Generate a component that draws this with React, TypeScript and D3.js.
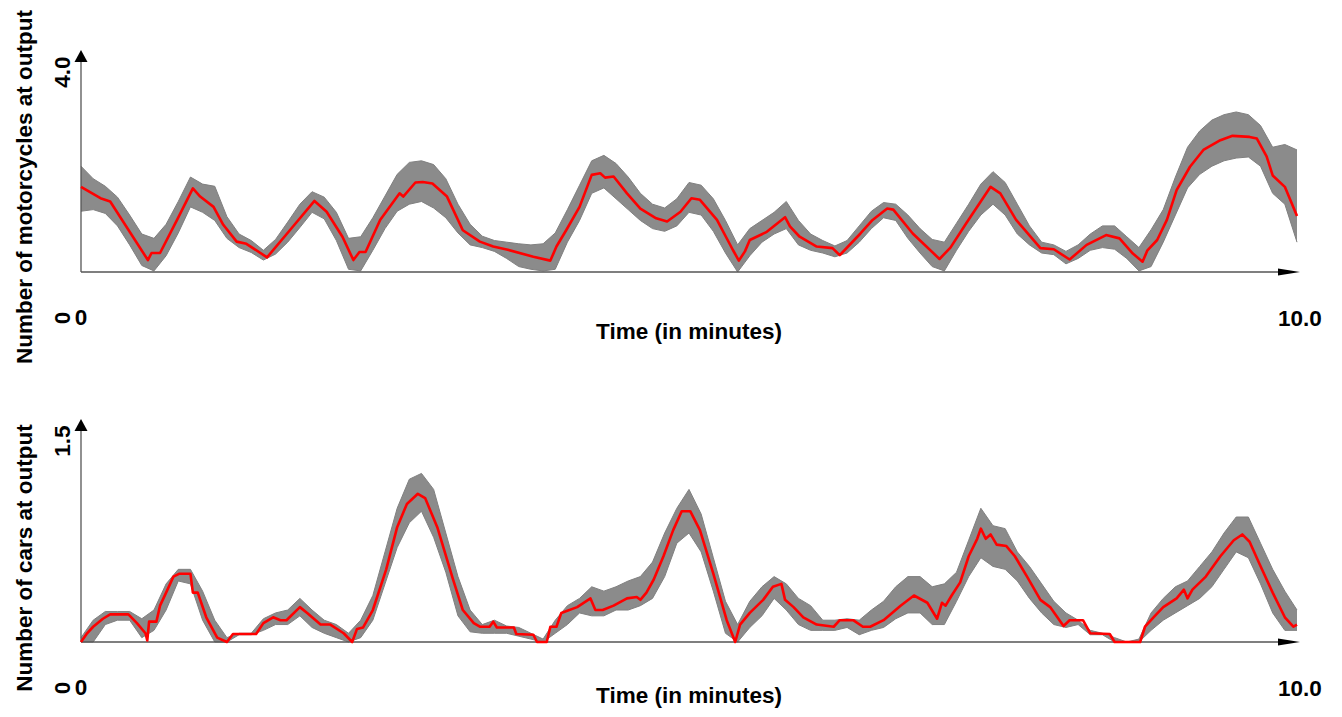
import React from "react";
import * as d3 from "d3";

// ---------- Data ----------
const xTickLabels = ["0", "10.0"];
const motoYTicks = ["0", "4.0"];
const carYTicks = ["0", "1.5"];

// Motorcycles: mean (red) read at key times
const motoMeanT = [0.00,0.16,0.24,0.55,0.58,0.65,0.79,0.92,0.98,1.09,1.17,1.28,1.36,1.53,1.74,1.92,2.02,2.15,2.24,2.29,2.34,2.46,2.62,2.65,2.75,2.81,2.89,3.01,3.14,3.28,3.39,3.51,3.72,3.86,3.91,3.99,4.10,4.20,4.27,4.31,4.38,4.49,4.60,4.73,4.82,4.93,5.02,5.09,5.23,5.36,5.41,5.46,5.50,5.64,5.79,5.83,5.91,6.05,6.18,6.24,6.41,6.51,6.63,6.68,6.84,7.06,7.15,7.28,7.48,7.56,7.69,7.89,8.00,8.13,8.27,8.43,8.54,8.65,8.73,8.77,8.85,8.93,9.01,9.12,9.23,9.37,9.47,9.61,9.67,9.75,9.80,9.90,10.00];
const motoMeanV = [1.57,1.36,1.30,0.22,0.35,0.35,0.96,1.54,1.39,1.20,0.87,0.56,0.52,0.27,0.83,1.31,1.11,0.65,0.22,0.37,0.37,0.96,1.45,1.39,1.65,1.66,1.63,1.39,0.77,0.56,0.47,0.41,0.28,0.21,0.47,0.77,1.20,1.79,1.82,1.74,1.76,1.45,1.17,0.99,0.93,1.11,1.36,1.33,0.96,0.41,0.21,0.38,0.59,0.74,1.01,0.84,0.65,0.47,0.44,0.31,0.71,0.96,1.17,1.15,0.71,0.24,0.45,0.90,1.57,1.45,0.96,0.44,0.42,0.23,0.50,0.68,0.62,0.34,0.19,0.40,0.59,0.96,1.51,1.94,2.25,2.43,2.51,2.49,2.46,2.13,1.78,1.57,1.03];

// Motorcycles: spread of the simulation runs (grey), on a 0.1-minute grid
const motoUpper = [1.95,1.72,1.58,1.38,1.05,0.70,0.62,0.88,1.30,1.75,
  1.62,1.58,1.02,0.70,0.58,0.40,0.60,0.92,1.25,1.48,
  1.38,1.10,0.62,0.65,1.00,1.40,1.80,2.02,2.05,1.98,
  1.72,1.25,0.88,0.66,0.58,0.55,0.52,0.50,0.52,0.72,
  1.15,1.60,2.05,2.15,2.00,1.75,1.45,1.25,1.18,1.35,
  1.65,1.60,1.35,0.95,0.50,0.80,0.95,1.10,1.30,0.95,
  0.70,0.58,0.48,0.58,0.85,1.12,1.28,1.25,1.05,0.80,
  0.60,0.55,0.90,1.25,1.62,1.85,1.65,1.25,0.85,0.55,
  0.50,0.38,0.50,0.70,0.85,0.85,0.65,0.45,0.78,1.15,
  1.75,2.30,2.60,2.80,2.90,2.95,2.90,2.70,2.30,2.35,
  2.25];
const motoLower = [1.12,1.15,1.08,0.85,0.50,0.12,0.02,0.30,0.72,1.20,
  1.10,0.95,0.62,0.45,0.36,0.22,0.33,0.55,0.82,1.10,
  0.98,0.58,0.05,0.02,0.40,0.80,1.12,1.25,1.30,1.18,
  1.00,0.72,0.50,0.45,0.38,0.25,0.10,0.05,0.02,0.05,
  0.55,0.95,1.45,1.55,1.35,1.15,0.95,0.80,0.75,0.85,
  1.10,1.05,0.75,0.35,0.00,0.30,0.55,0.70,0.80,0.50,
  0.40,0.35,0.28,0.35,0.55,0.80,1.00,0.95,0.62,0.35,
  0.10,0.02,0.40,0.75,1.05,1.25,1.05,0.70,0.50,0.35,
  0.32,0.15,0.25,0.40,0.45,0.42,0.25,0.02,0.10,0.55,
  1.05,1.55,1.80,1.95,2.05,2.10,2.12,1.95,1.45,1.25,
  0.55];

// Cars: mean (red) read at key times
const carMeanT = [0.00,0.05,0.10,0.18,0.24,0.39,0.46,0.53,0.545,0.56,0.62,0.65,0.70,0.76,0.81,0.90,0.92,0.96,1.03,1.12,1.20,1.25,1.44,1.50,1.58,1.64,1.69,1.80,1.86,1.97,2.05,2.16,2.23,2.27,2.32,2.40,2.51,2.60,2.68,2.77,2.83,2.93,3.06,3.14,3.23,3.28,3.36,3.39,3.42,3.56,3.58,3.72,3.75,3.83,3.86,3.91,3.95,4.08,4.19,4.23,4.29,4.38,4.49,4.57,4.60,4.65,4.71,4.79,4.87,4.94,5.01,5.09,5.20,5.31,5.38,5.42,5.50,5.61,5.69,5.76,5.79,5.86,5.94,6.05,6.19,6.24,6.35,6.43,6.49,6.60,6.74,6.85,6.96,7.04,7.08,7.11,7.16,7.23,7.30,7.37,7.40,7.44,7.48,7.53,7.61,7.68,7.78,7.89,7.97,8.08,8.13,8.24,8.30,8.46,8.50,8.71,8.75,8.82,8.90,9.01,9.07,9.10,9.14,9.25,9.37,9.48,9.55,9.61,9.69,9.80,9.90,9.97,10.00];
const carMeanV = [0.00,0.06,0.105,0.16,0.19,0.19,0.13,0.06,0.01,0.14,0.14,0.25,0.34,0.45,0.47,0.47,0.34,0.34,0.17,0.03,0.00,0.055,0.055,0.13,0.17,0.15,0.15,0.24,0.20,0.12,0.12,0.06,0.00,0.09,0.10,0.22,0.50,0.79,0.95,1.02,0.99,0.79,0.43,0.22,0.13,0.105,0.105,0.14,0.10,0.10,0.055,0.05,0.00,0.00,0.105,0.105,0.20,0.24,0.30,0.22,0.22,0.25,0.30,0.31,0.29,0.34,0.43,0.59,0.77,0.90,0.90,0.77,0.47,0.15,0.00,0.12,0.20,0.29,0.38,0.40,0.29,0.24,0.17,0.12,0.105,0.15,0.15,0.105,0.105,0.15,0.25,0.32,0.27,0.16,0.27,0.25,0.32,0.41,0.59,0.71,0.78,0.71,0.74,0.67,0.66,0.59,0.45,0.29,0.24,0.11,0.15,0.15,0.06,0.055,0.00,0.00,0.105,0.17,0.24,0.30,0.36,0.30,0.36,0.45,0.59,0.70,0.74,0.69,0.54,0.34,0.17,0.105,0.12];

// Cars: spread of the simulation runs (grey), on a 0.1-minute grid
const carUpper = [0.03,0.15,0.21,0.21,0.21,0.16,0.22,0.40,0.50,0.50,
  0.35,0.15,0.03,0.06,0.06,0.16,0.20,0.22,0.30,0.22,
  0.15,0.12,0.06,0.15,0.32,0.62,0.92,1.12,1.16,1.05,
  0.75,0.45,0.22,0.12,0.15,0.11,0.10,0.06,0.02,0.15,
  0.25,0.30,0.38,0.35,0.38,0.42,0.45,0.55,0.75,0.92,
  1.05,0.88,0.58,0.28,0.12,0.28,0.38,0.45,0.40,0.30,
  0.25,0.15,0.15,0.16,0.15,0.22,0.28,0.38,0.45,0.45,
  0.38,0.40,0.48,0.70,0.92,0.80,0.78,0.62,0.52,0.40,
  0.28,0.20,0.15,0.08,0.06,0.03,0.00,0.02,0.20,0.30,
  0.38,0.42,0.52,0.62,0.75,0.86,0.86,0.68,0.50,0.35,
  0.22];
const carLower = [0.00,0.00,0.12,0.15,0.15,0.03,0.08,0.22,0.42,0.40,
  0.15,0.00,0.00,0.05,0.05,0.08,0.12,0.12,0.18,0.10,
  0.06,0.03,0.00,0.03,0.15,0.40,0.65,0.82,0.90,0.72,
  0.48,0.18,0.07,0.06,0.06,0.06,0.04,0.02,0.00,0.06,
  0.12,0.20,0.18,0.18,0.22,0.22,0.25,0.30,0.45,0.68,
  0.75,0.62,0.35,0.06,0.00,0.10,0.18,0.30,0.22,0.12,
  0.08,0.08,0.08,0.10,0.05,0.08,0.10,0.16,0.20,0.20,
  0.12,0.12,0.28,0.45,0.58,0.52,0.50,0.42,0.30,0.20,
  0.12,0.10,0.12,0.05,0.05,0.00,0.00,0.00,0.08,0.15,
  0.20,0.25,0.30,0.38,0.50,0.62,0.58,0.40,0.20,0.08,
  0.08];

const gridT = d3.range(0, 101).map((i) => i / 10);

// ---------- Layout ----------
const W = 1342;
const H = 717;
const X0 = 81;
const X1 = 1297;
const FONT = "'Liberation Sans', Arial, Helvetica, sans-serif";
const FS = 22.5;

type PanelProps = {
  yMax: number;
  yBottom: number;
  yTop: number;
  meanT: number[];
  meanV: number[];
  upper: number[];
  lower: number[];
  yLabel: string;
  yTicks: string[];
  titleY: number;
  labelY: number;
};

function Panel(p: PanelProps) {
  const x = d3.scaleLinear().domain([0, 10]).range([X0, X1]);
  const y = d3.scaleLinear().domain([0, p.yMax]).range([p.yBottom, p.yTop]);

  const band = d3
    .area<number>()
    .x((_, i) => x(gridT[i]))
    .y0((_, i) => y(p.lower[i]))
    .y1((_, i) => y(p.upper[i]));
  const edge = (arr: number[]) =>
    d3
      .line<number>()
      .x((_, i) => x(gridT[i]))
      .y((d) => y(d))(arr) || "";
  const meanLine =
    d3
      .line<number>()
      .x((d) => x(d))
      .y((_, i) => y(p.meanV[i]))(p.meanT) || "";

  const base = y(0);
  const axisTipX = 1300;
  const axisTipY = p.yTop - 5;

  return (
    <g>
      {/* grey band of simulation runs */}
      <path d={band(p.upper) || ""} fill="#8b8b8b" stroke="none" />
      <path d={edge(p.upper)} fill="none" stroke="#808080" strokeWidth={1} />
      <path d={edge(p.lower)} fill="none" stroke="#808080" strokeWidth={1} />

      {/* axes */}
      <line x1={X0} y1={base} x2={1282} y2={base} stroke="#555" strokeWidth={1.3} />
      <polygon
        points={`${axisTipX},${base} ${axisTipX - 22},${base - 3.5} ${axisTipX - 22},${base + 3.5}`}
        fill="#000"
      />
      <line x1={X0} y1={base} x2={X0} y2={axisTipY + 8} stroke="#555" strokeWidth={1.3} />
      <polygon
        points={`${X0},${axisTipY} ${X0 - 6.5},${axisTipY + 12} ${X0 + 6.5},${axisTipY + 12}`}
        fill="#000"
      />

      {/* mean */}
      <path d={meanLine} fill="none" stroke="#ff0000" strokeWidth={2.6} strokeLinejoin="round" />

      {/* texts */}
      <g fontFamily={FONT} fontWeight="bold" fontSize={FS} fill="#000">
        <text transform={`translate(32,${p.labelY}) rotate(-90)`} textAnchor="middle">
          {p.yLabel}
        </text>
        <text transform={`translate(70,${p.yTop + 17}) rotate(-90)`} textAnchor="middle">
          {p.yTicks[1]}
        </text>
        <text transform={`translate(70,${base + 46}) rotate(-90)`} textAnchor="middle">
          {p.yTicks[0]}
        </text>
        <text x={X0} y={base + 53} textAnchor="middle">
          {xTickLabels[0]}
        </text>
        <text x={1300} y={base + 54} textAnchor="middle">
          {xTickLabels[1]}
        </text>
        <text x={689} y={p.titleY} textAnchor="middle">
          Time (in minutes)
        </text>
      </g>
    </g>
  );
}

export default function App() {
  return (
    <svg
      width={W}
      height={H}
      viewBox={`0 0 ${W} ${H}`}
      style={{ position: "absolute", left: 0, top: 0, background: "#fff" }}
    >
      <rect width={W} height={H} fill="#fff" />
      <Panel
        yMax={4}
        yBottom={272}
        yTop={55}
        meanT={motoMeanT}
        meanV={motoMeanV}
        upper={motoUpper}
        lower={motoLower}
        yLabel="Number of motorcycles at output"
        yTicks={motoYTicks}
        titleY={339}
        labelY={187}
      />
      <Panel
        yMax={1.5}
        yBottom={642}
        yTop={424}
        meanT={carMeanT}
        meanV={carMeanV}
        upper={carUpper}
        lower={carLower}
        yLabel="Number of cars at output"
        yTicks={carYTicks}
        titleY={703}
        labelY={558}
      />
    </svg>
  );
}
